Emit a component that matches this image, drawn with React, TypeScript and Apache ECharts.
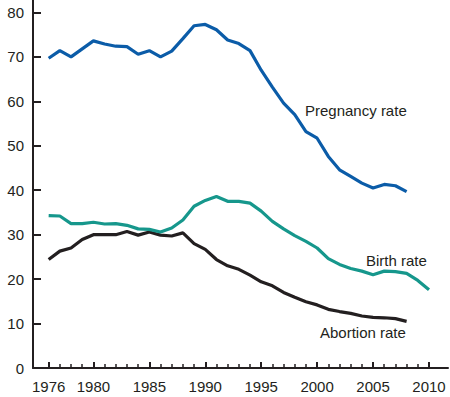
import React, { useEffect, useRef } from "react";
import * as echarts from "echarts";

const years = [1976, 1977, 1978, 1979, 1980, 1981, 1982, 1983, 1984, 1985, 1986, 1987, 1988, 1989, 1990, 1991, 1992, 1993, 1994, 1995, 1996, 1997, 1998, 1999, 2000, 2001, 2002, 2003, 2004, 2005, 2006, 2007, 2008, 2009, 2010];

const pregnancyRate = [69.7, 71.4, 70.0, 71.8, 73.6, 72.9, 72.4, 72.3, 70.6, 71.4, 70.0, 71.3, 74.1, 77.0, 77.3, 76.1, 73.8, 73.0, 71.4, 67.0, 63.2, 59.6, 57.0, 53.2, 51.7, 47.6, 44.6, 43.1, 41.6, 40.5, 41.3, 41.0, 39.7];
const birthRate = [34.3, 34.2, 32.5, 32.5, 32.8, 32.4, 32.5, 32.1, 31.3, 31.2, 30.6, 31.5, 33.3, 36.4, 37.7, 38.6, 37.5, 37.5, 37.1, 35.3, 33.0, 31.3, 29.8, 28.5, 27.0, 24.6, 23.3, 22.4, 21.8, 21.0, 21.8, 21.7, 21.3, 19.7, 17.6];
const abortionRate = [24.4, 26.3, 27.0, 28.9, 30.0, 30.0, 30.0, 30.7, 29.9, 30.6, 29.9, 29.7, 30.4, 28.0, 26.7, 24.4, 23.0, 22.2, 20.9, 19.4, 18.5, 17.0, 15.9, 14.9, 14.2, 13.2, 12.7, 12.3, 11.7, 11.4, 11.3, 11.1, 10.5];

const majorYears = [1976, 1980, 1985, 1990, 1995, 2000, 2005, 2010];
const yTicks = [0, 10, 20, 30, 40, 50, 60, 70, 80];

const seriesNames = ["Pregnancy rate", "Birth rate", "Abortion rate"];
const seriesColors = ["#0b5ca8", "#16978c", "#231f20"];

const FONT = "'Liberation Sans', Arial, sans-serif";
const TEXT_COLOR = "#231f20";

function pairs(values: number[]) {
  return values.map((v, i) => [years[i], v]);
}

export default function App() {
  const ref = useRef<HTMLDivElement>(null);
  useEffect(() => {
    if (!ref.current) return;
    const chart = echarts.init(ref.current, null, { renderer: "svg" });
    const xMin = 1974.6;
    const xMax = 2011.7;
    chart.setOption({
      animation: false,
      grid: { left: 33, right: 2, top: 0, bottom: 29 },
      xAxis: [
        {
          type: "value",
          min: xMin,
          max: xMax,
          splitLine: { show: false },
          axisLine: { show: true, lineStyle: { color: "#231f20", width: 2 } },
          axisTick: {
            show: true,
            inside: true,
            length: 6,
            customValues: majorYears,
            lineStyle: { color: "#231f20", width: 2 },
          },
          axisLabel: {
            customValues: majorYears,
            margin: 11,
            fontSize: 15,
            fontFamily: FONT,
            color: TEXT_COLOR,
            formatter: (v: number) => String(v),
          },
        },
        {
          type: "value",
          position: "bottom",
          min: xMin,
          max: xMax,
          splitLine: { show: false },
          axisLine: { show: false },
          axisTick: {
            show: true,
            inside: true,
            length: 4,
            customValues: years,
            lineStyle: { color: "#231f20", width: 1.5 },
          },
          axisLabel: { show: false },
        },
      ],
      yAxis: {
        type: "value",
        min: 0,
        max: 82.8,
        interval: 10,
        splitLine: { show: false },
        axisLine: { show: true, lineStyle: { color: "#231f20", width: 2 } },
        axisTick: {
          show: true,
          inside: true,
          length: 8,
          customValues: yTicks,
          lineStyle: { color: "#231f20", width: 2 },
        },
        axisLabel: {
          customValues: yTicks,
          margin: 9,
          fontSize: 15,
          fontFamily: FONT,
          color: TEXT_COLOR,
        },
      },
      series: [pregnancyRate, birthRate, abortionRate].map((vals, i) => ({
        type: "line",
        name: seriesNames[i],
        xAxisIndex: 0,
        data: pairs(vals),
        showSymbol: false,
        symbol: "none",
        lineStyle: { color: seriesColors[i], width: 3.2 },
        z: 3 - i,
      })),
      graphic: [
        { type: "text", left: 305, top: 103, style: { text: seriesNames[0], fontSize: 15, fontFamily: FONT, fill: TEXT_COLOR } },
        { type: "text", left: 366, top: 253, style: { text: seriesNames[1], fontSize: 15, fontFamily: FONT, fill: TEXT_COLOR } },
        { type: "text", left: 320, top: 325, style: { text: seriesNames[2], fontSize: 15, fontFamily: FONT, fill: TEXT_COLOR } },
      ],
    });
    return () => chart.dispose();
  }, []);
  return <div ref={ref} style={{ width: 450, height: 397, position: "absolute", left: 0, top: 0 }} />;
}
